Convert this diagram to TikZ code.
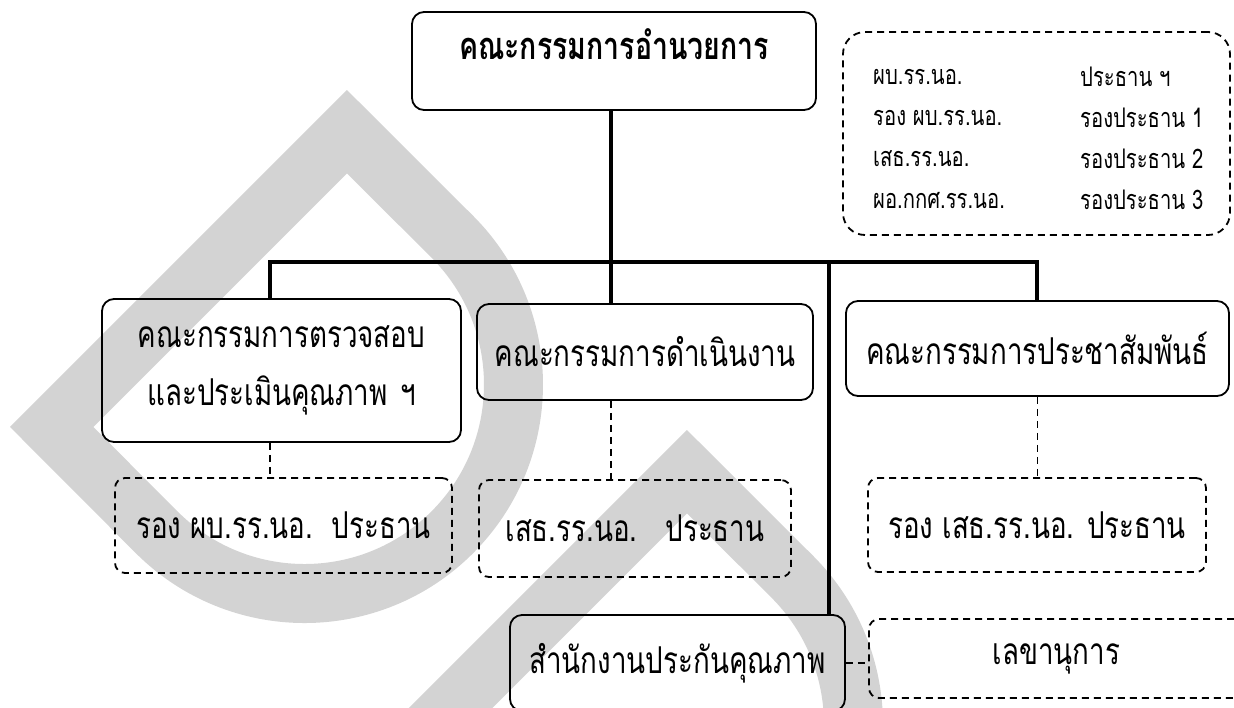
\documentclass[tikz,border=0pt]{standalone}
\usepackage{fontspec}
\usepackage{tikz}
\newfontfamily\thaifont[Script=Thai,FakeStretch=0.75]{Loma}
\definecolor{wmgray}{RGB}{211,211,211}

\begin{document}
\begin{tikzpicture}[x=1pt,y=-1pt,
	font=\thaifont\fontsize{37}{58}\selectfont,
	box/.style={draw,rounded corners=12pt,line width=1.8pt,align=center,inner sep=0pt},
	dbox/.style={draw,rounded corners=10pt,line width=1.8pt,dash pattern=on 7pt off 5pt,align=center,inner sep=0pt},
	bus/.style={line width=3.2pt},
	link/.style={line width=1.8pt,dash pattern=on 7pt off 5pt}]
		\useasboundingbox (0,0) rectangle (1234,707);
		% watermark
		\foreach \s in {0,340}
			\draw[wmgray,line width=59pt,line join=miter,shift={(\s,\s)}] (347,131.7) -- (51.7,427) -- (156.7,532.3) arc[start angle=135,end angle=-45,radius=209] -- cycle;
		\node at (614,61) [box,minimum width=404pt,minimum height=98pt,text depth=34pt,font=\thaifont\bfseries\fontsize{38}{40}\selectfont] (A) {คณะกรรมการอำนวยการ};
		\node at (1036.5,133.5) [dbox,rounded corners=22pt,minimum width=387pt,minimum height=203pt] (L) {};
		\foreach \y/\a/\b [count=\i] in {77/ผบ.รร.นอ./ประธาน ฯ,118/รอง ผบ.รร.นอ./รองประธาน 1,159/เสธ.รร.นอ./รองประธาน 2,200/ผอ.กกศ.รร.นอ./รองประธาน 3}{
			\node at (873,\y) [anchor=west,inner sep=0pt,font=\thaifont\fontsize{27}{30}\selectfont] (l\i) {\a};
			\node at (1080,\y) [anchor=west,inner sep=0pt,font=\thaifont\fontsize{27}{30}\selectfont] (r\i) {\b};
		}
		\node at (281.5,370.5) [box,minimum width=359pt,minimum height=143pt,text width=340pt] (B) {คณะกรรมการตรวจสอบ\par และประเมินคุณภาพ ฯ};
		\node at (645,352) [box,minimum width=336pt,minimum height=96pt] (C) {คณะกรรมการดำเนินงาน};
		\node at (1037.5,348.5) [box,minimum width=383pt,minimum height=95pt] (D) {คณะกรรมการประชาสัมพันธ์};
		\node at (283.5,525.5) [dbox,minimum width=337pt,minimum height=95pt] (Ab) {รอง ผบ.รร.นอ.\ \ ประธาน};
		\node at (635,528.5) [dbox,minimum width=312pt,minimum height=97pt] (Cb) {เสธ.รร.นอ.\ \ \ ประธาน};
		\node at (1037,525) [dbox,minimum width=338pt,minimum height=94pt] (Db) {รอง เสธ.รร.นอ. ประธาน};
		\node at (677.5,663) [box,minimum width=335pt,minimum height=96pt] (E) {สำนักงานประกันคุณภาพ};
		\node at (1056.5,658.5) [dbox,minimum width=375pt,minimum height=79pt] (F) {เลขานุการ};
		\coordinate (bl) at (270,262);
		\coordinate (bm) at (611,262);
		\coordinate (bq) at (829,262);
		\coordinate (br) at (1037,262);
		\draw[bus] (A.south -| bm) -- (bm);
		\draw[bus] (bl |- B.north) -- (bl) -- (br) -- (br |- D.north);
		\draw[bus] (bm) -- (bm |- C.north);
		\draw[bus] (bq) -- (bq |- E.north);
		\draw[link] (bl |- B.south) -- (bl |- Ab.north);
		\draw[link] (bm |- C.south) -- (bm |- Cb.north);
		\draw[link] (D.south) -- (D.south |- Db.north);
		\draw[link] (E.east) -- (E.east -| F.west);
\end{tikzpicture}
\end{document}
